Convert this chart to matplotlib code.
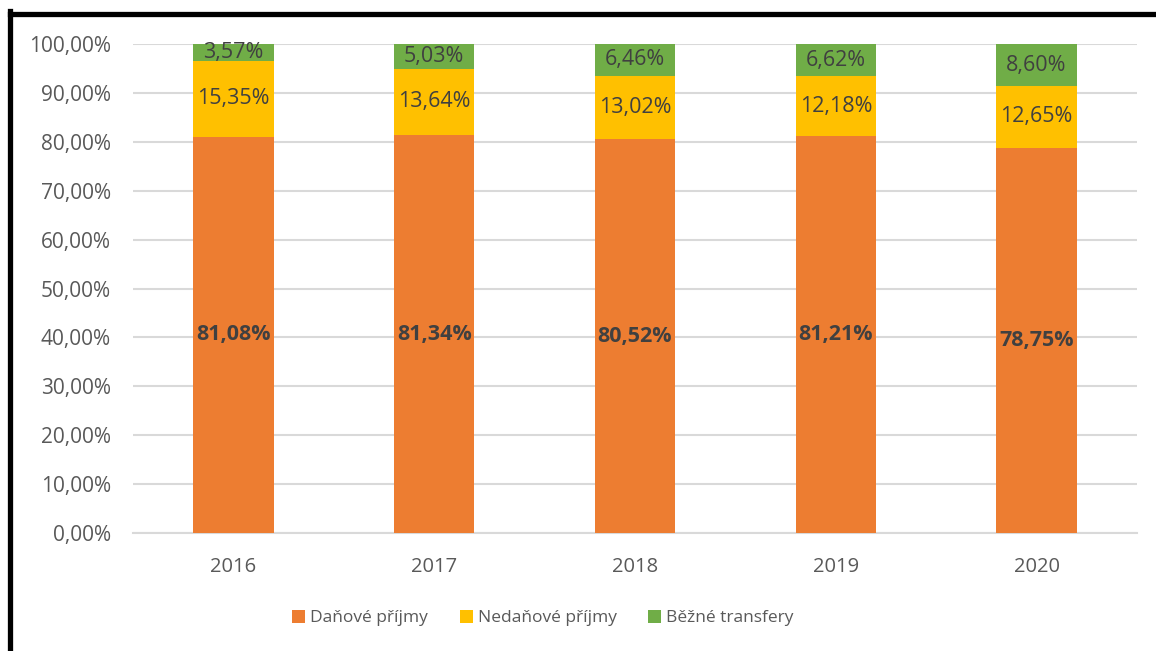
import matplotlib
matplotlib.use("Agg")
import matplotlib.pyplot as plt
from matplotlib.patches import Patch
from matplotlib.lines import Line2D

plt.rcParams['font.family'] = ['Open Sans', 'DejaVu Sans']

years = ["2016", "2017", "2018", "2019", "2020"]
danove = [81.08, 81.34, 80.52, 81.21, 78.75]
nedanove = [15.35, 13.64, 13.02, 12.18, 12.65]
bezne = [3.57, 5.03, 6.46, 6.62, 8.60]
series_names = ["Daňové příjmy", "Nedaňové příjmy", "Běžné transfery"]
colors = ["#ED7D31", "#FFC000", "#70AD47"]
yticks = [0, 10, 20, 30, 40, 50, 60, 70, 80, 90, 100]

def fmt(v):
    return f"{v:.2f}".replace(".", ",") + "%"

fig = plt.figure(figsize=(11.56, 6.51), dpi=100)
ax = fig.add_axes([133/1156, 1-533/651, (1137-133)/1156, (533-44)/651])

x = list(range(len(years)))
w = 0.40
bottoms = [0.0]*len(years)
for vals, col, name in zip([danove, nedanove, bezne], colors, series_names):
    ax.bar(x, vals, w, bottom=bottoms, color=col, label=name, zorder=3)
    for i, (b, v) in enumerate(zip(bottoms, vals)):
        bold = (col == colors[0])
        ax.text(i, b + v/2, fmt(v), ha='center', va='center', fontsize=15.5,
                color='#404040', fontweight='bold' if bold else 'normal', zorder=4)
    bottoms = [b + v for b, v in zip(bottoms, vals)]

ax.set_xlim(-0.5, len(years)-0.5)
ax.set_ylim(0, 100)
ax.set_yticks(yticks)
ax.set_yticklabels([fmt(t) for t in yticks])
ax.set_xticks(x)
ax.set_xticklabels(years)
ax.tick_params(axis='y', length=0, labelsize=15, colors='#595959', pad=16)
ax.tick_params(axis='x', length=0, labelsize=14.5, colors='#595959', pad=17)
ax.yaxis.grid(True, color='#d9d9d9', linewidth=1.5, zorder=0)
ax.set_axisbelow(True)
for s in ['top', 'right', 'left']:
    ax.spines[s].set_visible(False)
ax.spines['bottom'].set_color('#d9d9d9')
ax.spines['bottom'].set_linewidth(1.5)

handles = [Patch(facecolor=c, edgecolor='none') for c in colors]
fig.legend(handles, series_names, loc='center', bbox_to_anchor=(543/1156, 1-618/651),
           ncol=3, frameon=False, fontsize=12.5, handlelength=0.75, handleheight=0.75,
           columnspacing=1.8, handletextpad=0.3, labelcolor='#595959')

# black frame (left and top edges)
fig.add_artist(Line2D([9.5/1156, 9.5/1156], [0, 1-11/651], transform=fig.transFigure,
                      color='black', linewidth=3.8, solid_capstyle='projecting'))
fig.add_artist(Line2D([9.5/1156, 1], [1-13.5/651, 1-13.5/651], transform=fig.transFigure,
                      color='black', linewidth=3.8, solid_capstyle='projecting'))

fig.savefig("out.png", dpi=100)
